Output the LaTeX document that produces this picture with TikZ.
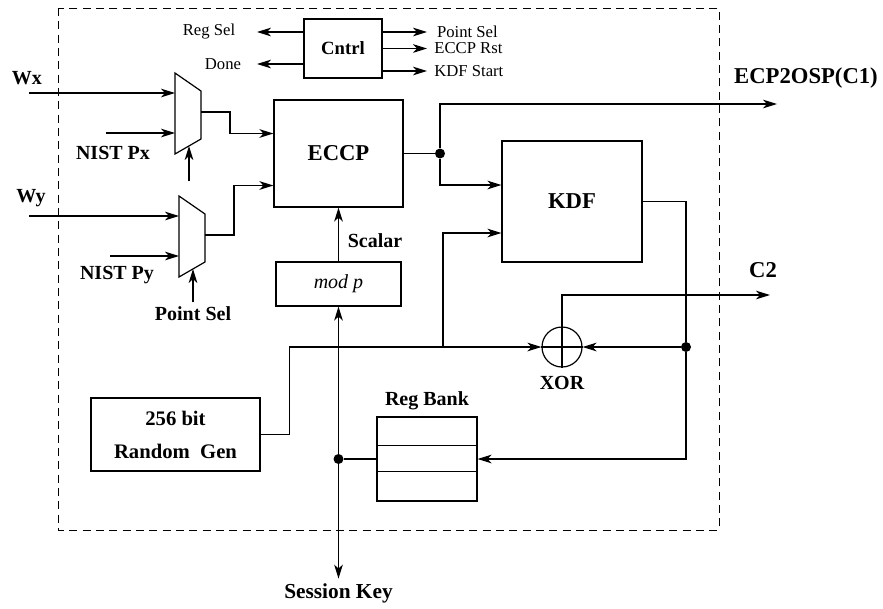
\documentclass[tikz,border=0pt]{standalone}
\usepackage{fontspec}
\setmainfont{Liberation Serif}
\usetikzlibrary{arrows.meta,positioning,calc}
\tikzset{
    blk/.style={rectangle, draw, line width=0.9pt, inner sep=0pt},
    sig/.style={-{Stealth[length=10.5pt,width=6.5pt,inset=3pt]}, line width=0.9pt},
    wire/.style={line width=0.9pt},
    dot/.style={circle, fill, inner sep=0pt, minimum size=7.5pt},
    lbl/.style={font=\fontsize{12.5}{14}\selectfont},
    blbl/.style={font=\fontsize{15}{17}\selectfont\bfseries},
    hlbl/.style={font=\fontsize{17}{19}\selectfont\bfseries},
    border/.style={draw, dash pattern=on 6pt off 4pt, line width=0.6pt},
    mux/.pic={
        \draw[wire] (0,0) -- (26,18) -- (26,66) -- (0,81) -- cycle;
        \coordinate (-in1) at (0,20);
        \coordinate (-in2) at (0,60);
        \coordinate (-out) at (26,39);
        \coordinate (-sel) at (14,73);
    }
}

\begin{document}
\begin{tikzpicture}[x=0.75pt, y=-0.75pt]
    \useasboundingbox (0,0) rectangle (883,608);
    \draw[border] (58,8) rectangle (719,530);

    % blocks
    \node[blk, minimum width=58.5pt, minimum height=44.25pt,
          font=\fontsize{14}{16}\selectfont\bfseries] (cntrl) at (343,48.5) {Cntrl};
    \node[blk, hlbl, minimum width=96.75pt, minimum height=80.25pt] (eccp) at (338.5,153.5) {ECCP};
    \node[blk, hlbl, minimum width=105pt, minimum height=90.75pt] (kdf) at (572,201.5) {KDF};
    \node[blk, minimum width=93.75pt, minimum height=33pt,
          font=\fontsize{15}{17}\selectfont\itshape] (modp) at (338.5,284) {mod p};
    \node[blk, align=center, minimum width=126.75pt, minimum height=54.75pt,
          font=\fontsize{15.5}{24.75}\selectfont\bfseries] (rng) at (175.5,434.5) {256 bit\\Random~~Gen};
    \node[blk, minimum width=75pt, minimum height=63pt] (regbank) at (427,459) {};
    \draw[wire] ($(regbank.north west)!0.345!(regbank.south west)$) -- ($(regbank.north east)!0.345!(regbank.south east)$);
    \draw[wire] ($(regbank.north west)!0.643!(regbank.south west)$) -- ($(regbank.north east)!0.643!(regbank.south east)$);
    \node[blbl, above=1pt of regbank] (regbanklbl) {Reg Bank};
    \node[circle, draw, line width=0.9pt, minimum size=30pt, inner sep=0pt] (xor) at (562,347) {};
    \draw[wire] (xor.west) -- (xor.east);
    \node[blbl, below=3pt of xor] (xorlbl) {XOR};

    % multiplexers
    \pic (m1) at (175,73) {mux};
    \pic (m2) at (179,196) {mux};

    % control unit
    \coordinate (regsel) at (257,32);
    \coordinate (done) at (257,64);
    \coordinate (ptselout) at (427,32);
    \coordinate (eccprst) at (427,48.5);
    \coordinate (kdfstart) at (427,71);
    \draw[sig] (cntrl.west |- regsel) -- (regsel);
    \draw[sig] (cntrl.west |- done) -- (done);
    \draw[sig] (cntrl.east |- ptselout) -- (ptselout);
    \draw[sig] (cntrl.east |- eccprst) -- (eccprst);
    \draw[sig] (cntrl.east |- kdfstart) -- (kdfstart);
    \node[lbl] (regsellbl) at (209,32) {Reg Sel};
    \node[lbl] (donelbl) at (223,64) {Done};
    \node[lbl, right=4pt of ptselout] (ptsellbl) {Point Sel};
    \node[lbl, right=2pt of eccprst] (eccprstlbl) {ECCP Rst};
    \node[lbl, right=2pt of kdfstart] (kdfstartlbl) {KDF Start};

    % point inputs
    \coordinate (wxin) at (29,93);
    \coordinate (pxin) at (106,133);
    \coordinate (wyin) at (29,216);
    \coordinate (pyin) at (110,256);
    \coordinate (sel1) at (189,181);
    \node[blbl] (wx) at (27,78) {Wx};
    \node[blbl] (wy) at (31,198) {Wy};
    \node[blbl] (nistpx) at (113,153) {NIST Px};
    \node[blbl] (nistpy) at (117,275) {NIST Py};
    \node[blbl] (pointsel) at (193,314) {Point Sel};
    \draw[sig] (wxin) -- (m1-in1);
    \draw[sig] (pxin) -- (m1-in2);
    \draw[sig] (wyin) -- (m2-in1);
    \draw[sig] (pyin) -- (m2-in2);
    \draw[sig] (sel1) -- (m1-sel);
    \draw[sig] (pointsel) -- (m2-sel);
    \draw[sig] (m1-out) -- ++(29,0) |- ($(eccp.west)+(0,-20)$);
    \draw[sig] (m2-out) -- ++(29,0) |- ($(eccp.west)+(0,32)$);

    % scalar path
    \draw[sig] (modp) -- (eccp);
    \node[blbl] (scalar) at (375,241) {Scalar};

    % outputs
    \node[dot] (d1) at (440,153.5) {};
    \coordinate (c1out) at (777,104);
    \draw[wire] (eccp.east) -- (d1);
    \draw[sig] (d1) |- (c1out);
    \draw[sig] (d1) |- ($(kdf.west)+(0,-16.5)$);
    \node[hlbl] (c1lbl) at (806,78) {ECP2OSP(C1)};

    \node[dot] (d2) at (686,347) {};
    \coordinate (c2out) at (770,295);
    \draw[sig] (kdf.east) -| (d2) |- (regbank.east);
    \draw[sig] (d2) -- (xor);
    \draw[sig] (xor.south) -- (xor.north) |- (c2out);
    \node[hlbl] (c2lbl) at (763,270) {C2};

    % random number path
    \coordinate (br) at (443,347);
    \draw[sig] (rng.east) -- ++(29,0) |- (xor.west);
    \draw[sig] (br) |- ($(kdf.west)+(0,31.5)$);

    % session key
    \node[dot] (d3) at (338.5,459) {};
    \node[font=\fontsize{16}{18}\selectfont\bfseries] (skey) at (338.5,593) {Session Key};
    \draw[wire] (regbank.west) -- (d3);
    \draw[sig] (d3) -- (modp);
    \draw[sig] (d3) -- (skey);
\end{tikzpicture}
\end{document}
